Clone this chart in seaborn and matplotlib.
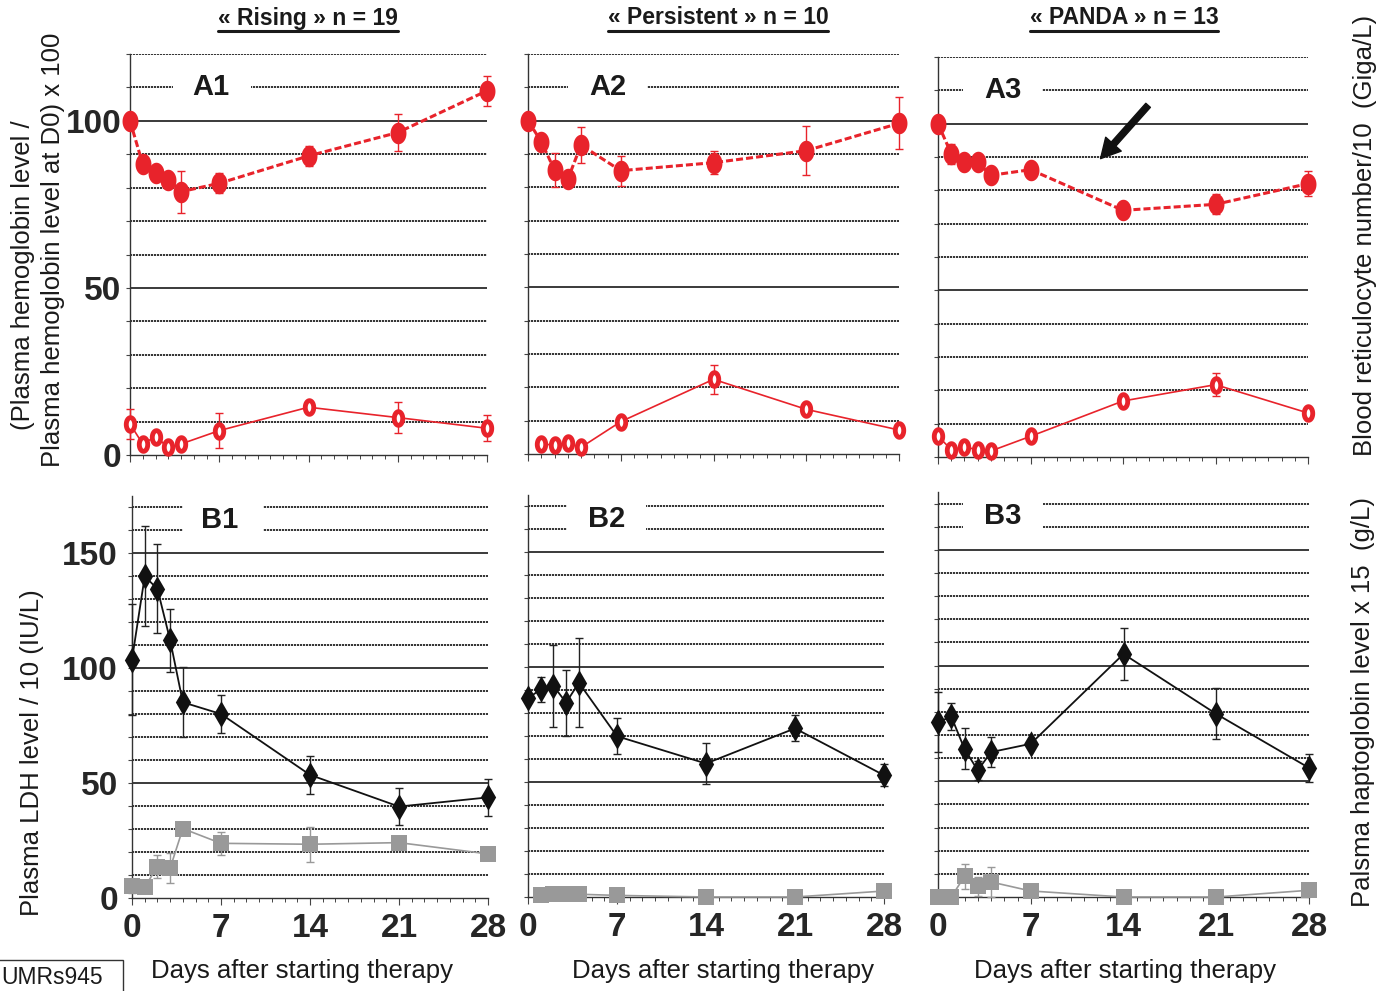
import numpy as np
import pandas as pd
import matplotlib
matplotlib.use("Agg")
import matplotlib.pyplot as plt
import seaborn as sns
from matplotlib.path import Path
from matplotlib.lines import Line2D
from matplotlib.patches import Rectangle
from matplotlib import font_manager

# ---------------- data ----------------
group_titles = ["« Rising » n = 19", "« Persistent » n = 10", "« PANDA » n = 13"]
top_letters = ["A1", "A2", "A3"]
bottom_letters = ["B1", "B2", "B3"]
x_ticks = [0, 7, 14, 21, 28]
x_label = "Days after starting therapy"

days = [0, 1, 2, 3, 4, 7, 14, 21, 28]
days_no0 = [1, 2, 3, 4, 7, 14, 21, 28]

# Hemoglobin relative to D0 (x100)
hb_rising = [100, 87.0, 84.4, 82.4, 78.8, 81.3, 89.5, 96.5, 109.0]
hb_rising_err = [0, 1.5, 1.5, 2.0, 6.3, 3.0, 3.0, 5.6, 4.5]
hb_persist = [100, 93.7, 85.2, 82.4, 92.7, 85.0, 87.4, 91.0, 99.2]
hb_persist_err = [0, 1.5, 5.0, 0, 5.5, 4.5, 3.5, 7.4, 7.8]
hb_panda = [100, 91.0, 88.5, 88.5, 84.5, 86.2, 74.0, 75.8, 82.0]
hb_panda_err = [0, 3.0, 0, 0, 0, 0, 0, 3.0, 3.7]

# Reticulocytes /10 (Giga/L)
ret_rising = [9.3, 3.3, 5.5, 2.3, 3.3, 7.3, 14.3, 11.2, 8.0]
ret_rising_err = [4.5, 0, 0, 0, 0, 5.3, 0, 4.7, 3.9]
ret_persist = [3.0, 2.7, 3.2, 2.0, 9.7, 22.4, 13.4, 7.2]          # days 1..28
ret_persist_err = [0, 0, 0, 0, 0, 4.3, 0, 0]
ret_panda = [6.3, 2.2, 3.0, 2.2, 1.8, 6.2, 16.8, 21.7, 13.2]
ret_panda_err = [0, 0, 0, 0, 0, 0, 0, 3.5, 0]

# LDH /10 (IU/L)
ldh_rising = [103.8, 140.0, 134.6, 112.2, 85.2, 80.1, 53.6, 39.8, 43.8]
ldh_rising_err = [24.0, 21.8, 19.4, 13.8, 15.2, 8.4, 8.3, 8.0, 7.9]
ldh_persist = [86.5, 90.4, 91.9, 84.6, 93.3, 70.0, 58.1, 73.4, 53.0]
ldh_persist_err = [0, 5.5, 17.7, 14.3, 19.5, 7.8, 9.1, 5.7, 4.8]
ldh_panda = [75.5, 78.0, 64.0, 54.7, 62.6, 66.2, 105.0, 79.1, 55.8]
ldh_panda_err = [12.9, 6.0, 8.9, 4.0, 6.5, 0, 11.4, 11.0, 5.9]

# Haptoglobin x15 (g/L)
hap_rising = [5.2, 4.7, 13.7, 13.0, 30.2, 23.8, 23.4, 24.1, 19.2]
hap_rising_err = [3.0, 0, 5.0, 6.5, 0, 5.0, 7.6, 0, 0]
hap_persist = [0.7, 1.5, 1.2, 1.2, 0.7, 0.0, 0.0, 2.6]            # days 1..28
hap_persist_err = [0, 0, 0, 0, 0, 0, 0, 0]
hap_panda = [0.0, 0.0, 8.9, 4.6, 6.5, 2.6, 0.0, 0.0, 2.9]
hap_panda_err = [0, 0, 5.4, 4.0, 6.5, 0, 0, 0, 0]

top_series = [
    (days, hb_rising, hb_rising_err, days, ret_rising, ret_rising_err),
    (days, hb_persist, hb_persist_err, days_no0, ret_persist, ret_persist_err),
    (days, hb_panda, hb_panda_err, days, ret_panda, ret_panda_err),
]
bottom_series = [
    (days, ldh_rising, ldh_rising_err, days, hap_rising, hap_rising_err),
    (days, ldh_persist, ldh_persist_err, days_no0, hap_persist, hap_persist_err),
    (days, ldh_panda, ldh_panda_err, days, hap_panda, hap_panda_err),
]

# ---------------- style ----------------
sns.set_style("white")


def has_font(name):
    try:
        font_manager.findfont(font_manager.FontProperties(family=name),
                              fallback_to_default=False)
        return True
    except Exception:
        return False


BASE = "Liberation Sans" if has_font("Liberation Sans") else "DejaVu Sans"
plt.rcParams["font.family"] = [BASE, "DejaVu Sans"]
NARROW = has_font("Liberation Sans Narrow")

RED = "#E8232B"
GREY = "#999999"
BLACK = "#111111"
W, H = 1396, 991

fig = plt.figure(figsize=(W / 100, H / 100), dpi=100)


def fx(px):
    return px / W


def fy(py):
    return 1 - py / H


def axes_px(left, right, top, bottom):
    return fig.add_axes([fx(left), fy(bottom), fx(right) - fx(left), (bottom - top) / H])


theta = np.linspace(0, 2 * np.pi, 65)
ellipse_hb = Path(np.c_[0.74 * np.cos(theta), np.sin(theta)], closed=True)
ellipse_ret = Path(np.c_[0.62 * np.cos(theta), np.sin(theta)], closed=True)
diamond = Path([[0, -1], [0.58, 0], [0, 1], [-0.58, 0], [0, -1]], closed=True)

top_boxes = [(130, 487, 54, 455), (528, 899, 54, 454), (938, 1308, 57, 457)]
bot_boxes = [(132, 488, 496, 898), (528, 884, 495, 897), (938, 1309, 492, 897)]

letter_pos_top = [(6.35, 110, 3.4, 9.5), (6.0, 110, 3.0, 9.0), (4.9, 110, 1.9, 7.9)]
letter_pos_bot = [(6.9, 164.6, 4.0, 10.3), (6.2, 164.6, 3.1, 9.3), (4.9, 164.6, 1.9, 7.9)]


def style_axes(ax, ymax, ytop, step, label_ticks, show_x_labels, ypad):
    ax.set_xlim(0, 28)
    ax.set_ylim(0, ymax)
    for v in range(step, ytop + 1, step):
        if v % 50 == 0:
            ax.axhline(v, color="#3a3a3a", lw=1.4, zorder=1)
        else:
            ax.axhline(v, color="#111111", lw=1.2, ls=(0, (1.3, 0.5)), zorder=1)
    yt = list(range(0, ytop + 1, step))
    ylabels = [str(v) if (label_ticks and v % 50 == 0) else "" for v in yt]
    ax.set_yticks(yt, labels=ylabels, fontsize=24, fontweight="bold")
    ax.set_xticks(x_ticks,
                  labels=[str(t) for t in x_ticks] if show_x_labels else ["" for _ in x_ticks],
                  fontsize=24, fontweight="bold")
    ax.set_xticks(range(0, 29), minor=True)
    ax.tick_params(axis="y", which="major", direction="out", length=3, width=0.8,
                   color="#444444", pad=ypad, left=True)
    ax.tick_params(axis="x", which="major", direction="out", length=5, width=0.8,
                   color="#444444", pad=6, bottom=True)
    ax.tick_params(axis="x", which="minor", direction="out", length=3, width=0.7,
                   color="#444444", bottom=True)
    for s in ["top", "right"]:
        ax.spines[s].set_visible(False)
    for s in ["left", "bottom"]:
        ax.spines[s].set_color("#333333")
        ax.spines[s].set_linewidth(1.0)
    ax.patch.set_alpha(0)


def add_errors(ax, x, y, e, color):
    x = np.asarray(x, float)
    y = np.asarray(y, float)
    e = np.asarray(e, float)
    m = e > 0
    if m.any():
        ax.errorbar(x[m], y[m], yerr=e[m], fmt="none", ecolor=color, elinewidth=1.0,
                    capsize=3.2, capthick=1.0, zorder=3, clip_on=False)


# ---------------- top panels ----------------
for i in range(3):
    ax = axes_px(*top_boxes[i])
    style_axes(ax, 120, 120, 10, i == 0, False, 3)
    dh, hb, hbe, dr, rt, rte = top_series[i]
    add_errors(ax, dh, hb, hbe, RED)
    add_errors(ax, dr, rt, rte, RED)
    sns.lineplot(x=dh, y=hb, ax=ax, color=RED, linewidth=2.2, linestyle=(0, (2.3, 1.0)),
                 marker=ellipse_hb, markersize=15.5, markerfacecolor=RED,
                 markeredgewidth=0, markeredgecolor=RED, errorbar=None,
                 zorder=4, clip_on=False)
    sns.lineplot(x=dr, y=rt, ax=ax, color=RED, linewidth=1.2,
                 marker=ellipse_ret, markersize=9.8, markerfacecolor="white",
                 markeredgewidth=3.5, markeredgecolor=RED, errorbar=None,
                 zorder=4, clip_on=False)
    lx, ly, b0, b1 = letter_pos_top[i]
    ax.add_patch(Rectangle((b0, ly - 4.5), b1 - b0, 9, facecolor="white",
                           edgecolor="none", zorder=2))
    ax.text(lx, ly, top_letters[i], fontsize=21, fontweight="bold", ha="center",
            va="center", color="#1a1a1a", zorder=5)
    ax.set_xlabel("")
    ax.set_ylabel("")
    if i == 2:
        ax.annotate("", xy=(12.3, 89.5), xytext=(15.9, 105.5),
                    arrowprops=dict(arrowstyle="simple,tail_width=0.22,head_width=0.75,head_length=0.7",
                                    mutation_scale=20, color="#111111",
                                    shrinkA=0, shrinkB=0), zorder=6)

# ---------------- bottom panels ----------------
for i in range(3):
    ax = axes_px(*bot_boxes[i])
    style_axes(ax, 175, 170, 10, i == 0, True, 7)
    dl, ld, lde, dp, hp, hpe = bottom_series[i]
    add_errors(ax, dl, ld, lde, "#222222")
    add_errors(ax, dp, hp, hpe, GREY)
    sns.lineplot(x=dp, y=hp, ax=ax, color=GREY, linewidth=1.2,
                 marker="s", markersize=11, markerfacecolor=GREY,
                 markeredgewidth=0, markeredgecolor=GREY, errorbar=None,
                 zorder=4, clip_on=False)
    sns.lineplot(x=dl, y=ld, ax=ax, color=BLACK, linewidth=1.3,
                 marker=diamond, markersize=19, markerfacecolor=BLACK,
                 markeredgewidth=0, markeredgecolor=BLACK, errorbar=None,
                 zorder=5, clip_on=False)
    lx, ly, b0, b1 = letter_pos_bot[i]
    ax.add_patch(Rectangle((b0, ly - 8), b1 - b0, 16, facecolor="white",
                           edgecolor="none", zorder=2))
    ax.text(lx, ly, bottom_letters[i], fontsize=21, fontweight="bold", ha="center",
            va="center", color="#1a1a1a", zorder=5)
    ax.set_xlabel("")
    ax.set_ylabel("")

# ---------------- figure texts ----------------
label_kw = dict(fontsize=18.5, color="#1a1a1a")
fig.text(fx(23), fy(275), "(Plasma hemoglobin level /", rotation=90,
         ha="center", va="center", **label_kw)
fig.text(fx(53), fy(250), "Plasma hemoglobin level at D0) x 100", rotation=90,
         ha="center", va="center", **label_kw)
fig.text(fx(32), fy(753), "Plasma LDH level / 10 (IU/L)", rotation=90,
         ha="center", va="center", **label_kw)
fig.text(fx(1365), fy(235), "Blood reticulocyte number/10  (Giga/L)", rotation=90,
         ha="center", va="center", **label_kw)
fig.text(fx(1363), fy(702), "Palsma haptoglobin level x 15  (g/L)", rotation=90,
         ha="center", va="center", **label_kw)

for xc in [302, 723, 1125]:
    fig.text(fx(xc), fy(971), x_label, ha="center", va="center", **label_kw)

if NARROW:
    title_kw = dict(fontsize=20, fontweight="bold", family=["Liberation Sans Narrow", "DejaVu Sans"])
else:
    title_kw = dict(fontsize=16.5, fontweight="bold")
titles = []
for xc, t in zip([308, 718, 1124], group_titles):
    titles.append(fig.text(fx(xc), fy(18), t, ha="center", va="center",
                           color="#1a1a1a", **title_kw))

fig.patches.append(Rectangle((fx(-3), fy(995)), fx(126), (995 - 960) / H,
                             transform=fig.transFigure, facecolor="white",
                             edgecolor="#333333", lw=1.0))
fig.text(fx(52), fy(978), "UMRs945", ha="center", va="center", fontsize=16.5,
         color="#1a1a1a")

fig.canvas.draw()
renderer = fig.canvas.get_renderer()
for t in titles:
    bb = t.get_window_extent(renderer)
    yline = H - 31  # display coords (origin bottom)
    fig.add_artist(Line2D([bb.x0 / W, bb.x1 / W], [yline / H, yline / H],
                          transform=fig.transFigure, color="#1a1a1a", lw=2.2))

fig.savefig("out.png", dpi=100)
